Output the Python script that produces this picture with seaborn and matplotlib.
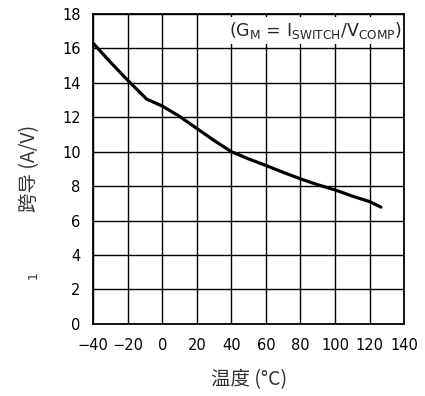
import seaborn as sns
import matplotlib.pyplot as plt
import pandas as pd

# temperature (°C) vs transconductance (A/V)
temp = [-40, -30, -20, -9, 0, 10, 20, 30, 40, 50, 60, 70, 80, 90, 100, 110, 120, 126.5]
gm = [16.3, 15.2, 14.15, 13.05, 12.65, 12.05, 11.35, 10.65, 10.0, 9.58, 9.2, 8.8, 8.42, 8.08, 7.78, 7.42, 7.1, 6.78]

xticks = [-40, -20, 0, 20, 40, 60, 80, 100, 120, 140]
yticks = [0, 2, 4, 6, 8, 10, 12, 14, 16, 18]

sns.set_style("white")
plt.rcParams['font.family'] = ['DejaVu Sans', 'Noto Sans CJK SC']

df = pd.DataFrame({"temp": temp, "gm": gm})

fig = plt.figure(figsize=(4.25, 3.96), dpi=100)
ax = fig.add_axes([0.219, 0.182, 0.732, 0.783])

# grid first, curve on top
ax.set_axisbelow(True)
ax.grid(True, color="black", linewidth=1.0)
sns.lineplot(data=df, x="temp", y="gm", ax=ax, color="black", linewidth=2.3, zorder=4)

ax.set_xlim(-40, 140)
ax.set_ylim(0, 18)
ax.set_xticks(xticks)
ax.set_yticks(yticks)
ax.set_xticklabels([str(t).replace("-", "\u2212") for t in xticks])
ax.tick_params(axis="both", length=0, labelsize=10.5, colors="black")
ax.tick_params(axis="x", pad=10)
ax.tick_params(axis="y", pad=9)
for s in ax.spines.values():
    s.set_color("black")
    s.set_linewidth(1.3)
    s.set_zorder(3)

ax.text(138.5, 17.05, r"(G$_\mathregular{M}$ = I$_\mathregular{SWITCH}$/V$_\mathregular{COMP}$)",
        ha="right", va="center", fontsize=12.5, zorder=1.5,
        bbox=dict(facecolor="white", edgecolor="none", pad=2.0))

ax.set_xlabel("温度 (°C)", fontsize=14, color="#333333", labelpad=12,
              family=['Noto Sans CJK SC', 'DejaVu Sans'])
ax.set_ylabel("跨导 (A/V)", fontsize=14, color="#333333", labelpad=16,
              family=['Noto Sans CJK SC', 'DejaVu Sans'])

fig.text(0.078, 0.305, "1", rotation=90, fontsize=9, color="#333333",
         ha="center", va="center")

fig.savefig("out.png", dpi=100)
